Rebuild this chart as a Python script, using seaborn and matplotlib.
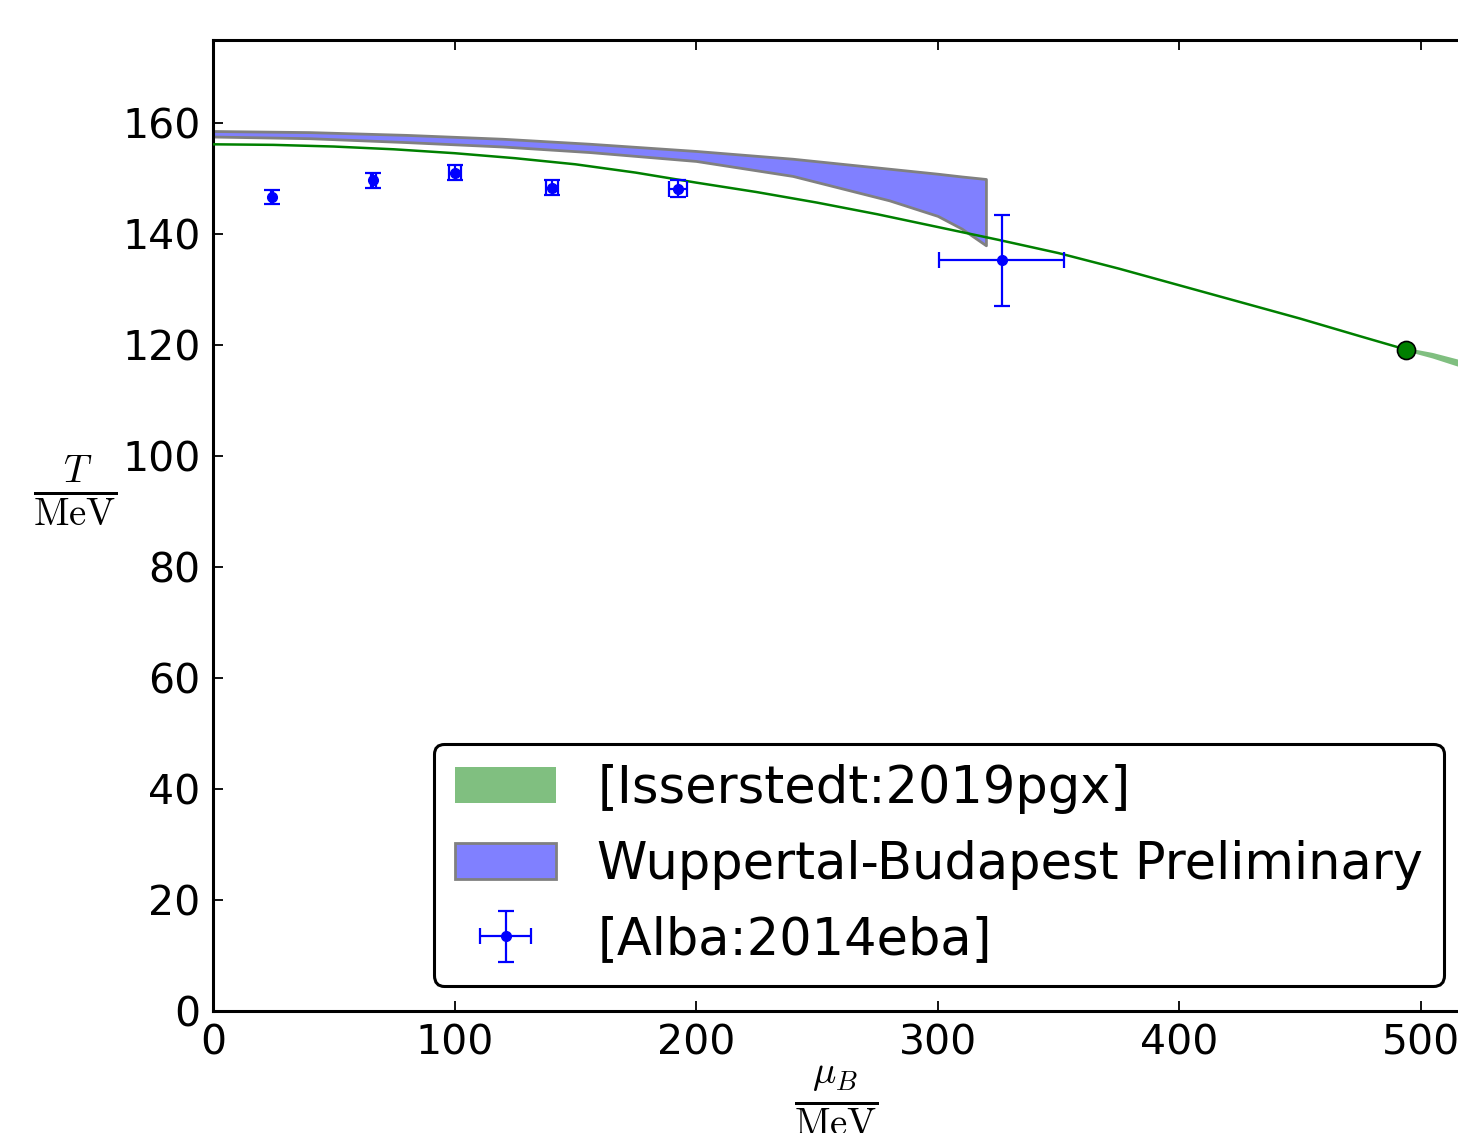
import numpy as np
import pandas as pd
import matplotlib
matplotlib.use("Agg")
import matplotlib.pyplot as plt
import seaborn as sns

# ---------------- data ----------------
# Isserstedt:2019pgx crossover line (dark green) up to the critical end point
iss_mu = [0, 25, 50, 75, 100, 125, 150, 175, 200, 225, 250, 275, 300, 325,
          350, 375, 400, 425, 450, 475, 494]
iss_T = [156.2, 156.1, 155.8, 155.3, 154.6, 153.7, 152.6, 151.1, 149.3, 147.6,
         145.7, 143.6, 141.3, 139.0, 136.6, 133.8, 130.8, 127.8, 124.8, 121.6,
         119.2]
# critical end point
cep_mu = [494]
cep_T = [119.2]
# first-order band beyond the CEP
fo_mu = [494, 505, 520]
fo_lo = [118.9, 117.6, 115.5]
fo_hi = [119.5, 118.6, 116.9]

# Wuppertal-Budapest preliminary band
wb_mu = [0, 40, 80, 120, 156, 200, 240, 280, 300, 310, 320]
wb_hi = [158.6, 158.4, 157.9, 157.2, 156.3, 155.0, 153.6, 151.8, 150.9,
         150.4, 149.95]
wb_lo = [157.6, 157.3, 156.6, 155.8, 154.8, 153.2, 150.5, 146.1, 143.3,
         141.0, 138.0]

# Alba:2014eba freeze-out points
alba_mu = [24.4, 66.3, 100.0, 140.4, 192.5, 326.5]
alba_T = [146.7, 149.7, 151.1, 148.4, 148.2, 135.3]
alba_muerr = [0.5, 1.0, 2.5, 2.4, 3.7, 25.8]
alba_Terr = [1.3, 1.3, 1.35, 1.35, 1.55, 8.25]

labels = ["[Isserstedt:2019pgx]", "Wuppertal-Budapest Preliminary",
          "[Alba:2014eba]"]
xticks = [0, 100, 200, 300, 400, 500]
yticks = [0, 20, 40, 60, 80, 100, 120, 140, 160]

# ---------------- style ----------------
sns.set_style("ticks")
plt.rcParams["font.family"] = ["DejaVu Sans"]
plt.rcParams["mathtext.fontset"] = "cm"
plt.rcParams["text.color"] = "black"
plt.rcParams["axes.labelcolor"] = "black"
plt.rcParams["xtick.color"] = "black"
plt.rcParams["ytick.color"] = "black"

W, H = 1458, 1133
fig = plt.figure(figsize=(W / 100, H / 100), dpi=100)
left, right_px, top_px, bottom_px = 213, 1469, 40, 1011
ax = fig.add_axes([left / W, (H - bottom_px) / H,
                   (right_px - left) / W, (bottom_px - top_px) / H])

# Wuppertal-Budapest band
ax.fill_between(wb_mu, wb_lo, wb_hi, facecolor="#8080ff", edgecolor="gray",
                linewidth=2, label=labels[1], zorder=2)

# Isserstedt line
df_iss = pd.DataFrame({"mu": iss_mu, "T": iss_T})
sns.lineplot(data=df_iss, x="mu", y="T", color="#008000", linewidth=1.8,
             sort=False, estimator=None, ax=ax, zorder=3)
ax.fill_between(fo_mu, fo_lo, fo_hi, facecolor="#80bf80", edgecolor="none",
                linewidth=0, label=labels[0], zorder=3)
ax.plot(cep_mu, cep_T, "o", color="#008000", markeredgecolor="black",
        markeredgewidth=1.2, markersize=13, zorder=5)

# Alba points
ax.errorbar(alba_mu, alba_T, xerr=alba_muerr, yerr=alba_Terr, fmt="o",
            color="#0000ff", markersize=7, elinewidth=1.6, capsize=6,
            capthick=1.6, label=labels[2], zorder=6)

ax.set_xlim(0, 520)
ax.set_ylim(0, 175)
ax.set_xticks(xticks)
ax.set_yticks(yticks)
ax.tick_params(direction="in", top=True, right=True, length=7, width=1.3,
               labelsize=29.5, pad=9, colors="black")
for s in ax.spines.values():
    s.set_linewidth(2.2)
    s.set_color("black")

ax.set_xlabel(r"$\frac{\mu_B}{\mathrm{MeV}}$", fontsize=40, labelpad=0.4)
ax.xaxis.label.set_x(0.496)
ax.set_ylabel(r"$\frac{T}{\mathrm{MeV}}$", fontsize=40, rotation=0,
              va="center", ha="center")
ax.yaxis.set_label_coords(-0.11, 0.5366)

handles, labs = ax.get_legend_handles_labels()
order = [labs.index(l) for l in labels]
leg = ax.legend([handles[i] for i in order], [labs[i] for i in order],
                loc="lower right", fontsize=36.7, frameon=True, fancybox=True,
                handlelength=2.0, handletextpad=0.8, borderpad=0.4,
                labelspacing=0.5, borderaxespad=0.5, framealpha=1)
leg.get_frame().set_edgecolor("black")
leg.get_frame().set_linewidth(2.2)
for t in leg.get_texts():
    t.set_color("black")

fig.savefig("out.png", dpi=100)
